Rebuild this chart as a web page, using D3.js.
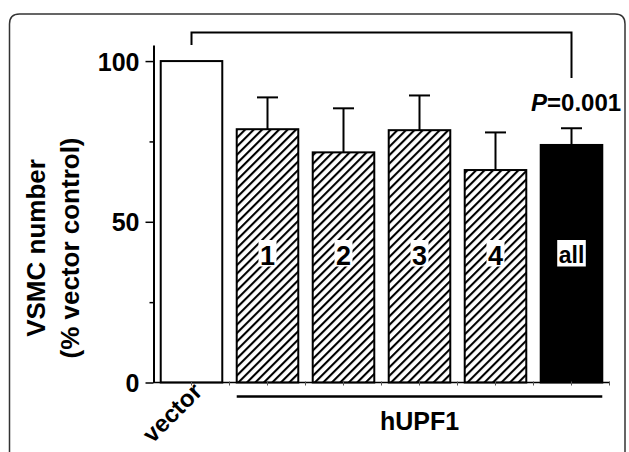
<!DOCTYPE html>
<html>
<head>
<meta charset="utf-8">
<script src="https://cdn.jsdelivr.net/npm/d3@7"></script>
<style>
  body { margin: 0; background: #fff; }
  svg text { font-family: "Liberation Sans", Arial, sans-serif; font-weight: bold; }
</style>
</head>
<body>
<div id="chart"></div>
<script>
// data
const groups = ["vector", "1", "2", "3", "4", "all"];
const means = [100, 78.8, 71.6, 78.5, 66.1, 73.9];
const errs = [0, 9.9, 13.7, 10.8, 11.7, 5.2];
const fills = ["white", "hatch", "hatch", "hatch", "hatch", "black"];
const majorTicks = [0, 50, 100];
const minorTicks = [25, 75];
const pLabel = "0.001";

const W = 629, H = 452;

const svg = d3.select("#chart").append("svg")
    .attr("width", W)
    .attr("height", H);

// hatch pattern
const defs = svg.append("defs");
defs.append("pattern")
    .attr("id", "hatch")
    .attr("patternUnits", "userSpaceOnUse")
    .attr("width", 6)
    .attr("height", 6)
    .attr("patternTransform", "rotate(45)")
    .call(p => {
        p.append("rect").attr("width", 6).attr("height", 6).attr("fill", "white");
        p.append("line").attr("x1", 1).attr("x2", 1).attr("y1", 0).attr("y2", 6)
            .attr("stroke", "black").attr("stroke-width", 2.2);
    });

// panel frame (open at the bottom)
svg.append("path")
    .attr("d", "M9.5,460 L9.5,24 Q9.5,14 19.5,14 L615,14 Q625,14 625,24 L625,460")
    .attr("fill", "none")
    .attr("stroke", "#333")
    .attr("stroke-width", 1.5);

const x = d3.scaleBand()
    .domain(groups)
    .range([153.5, 609.5])
    .paddingInner(0.19)
    .paddingOuter(0.095);

const y = d3.scaleLinear()
    .domain([0, 105])
    .range([382.5, 45]);

// y axis
const yAxis = svg.append("g")
    .attr("transform", "translate(153.5,0)")
    .call(d3.axisLeft(y).tickValues(majorTicks).tickSize(8).tickPadding(6).tickSizeOuter(0));
yAxis.select(".domain").attr("stroke-width", 2);
yAxis.selectAll(".tick line").attr("stroke-width", 1.5);
yAxis.selectAll(".tick text")
    .attr("font-size", 25)
    .attr("font-family", "'Liberation Sans', Arial, sans-serif")
    .attr("dy", "0.36em");

const yMinor = svg.append("g")
    .attr("transform", "translate(153.5,0)")
    .call(d3.axisLeft(y).tickValues(minorTicks).tickSize(4).tickFormat(""));
yMinor.select(".domain").remove();
yMinor.selectAll(".tick line").attr("stroke-width", 1.5);

// bars
svg.selectAll(".bar")
    .data(groups)
    .enter().append("rect")
    .attr("class", "bar")
    .attr("x", d => x(d))
    .attr("width", x.bandwidth())
    .attr("y", (d, i) => y(means[i]))
    .attr("height", (d, i) => y(0) - y(means[i]))
    .attr("fill", (d, i) => fills[i] === "hatch" ? "url(#hatch)" : fills[i])
    .attr("stroke", "black")
    .attr("stroke-width", 2);

// error bars
const eb = groups.map((g, i) => ({ g, m: means[i], e: errs[i] })).filter(d => d.e > 0);
svg.selectAll(".err")
    .data(eb)
    .enter().append("line")
    .attr("x1", d => x(d.g) + x.bandwidth() / 2)
    .attr("x2", d => x(d.g) + x.bandwidth() / 2)
    .attr("y1", d => y(d.m))
    .attr("y2", d => y(d.m + d.e))
    .attr("stroke", "black")
    .attr("stroke-width", 2);
svg.selectAll(".cap")
    .data(eb)
    .enter().append("line")
    .attr("x1", d => x(d.g) + x.bandwidth() / 2 - 10.5)
    .attr("x2", d => x(d.g) + x.bandwidth() / 2 + 10.5)
    .attr("y1", d => y(d.m + d.e))
    .attr("y2", d => y(d.m + d.e))
    .attr("stroke", "black")
    .attr("stroke-width", 2);

// x axis baseline with small ticks
const xa = svg.append("g").attr("transform", "translate(0,382.5)");
xa.append("line").attr("x1", 153.5).attr("x2", 610).attr("stroke", "black").attr("stroke-width", 1.5);
const tickXs = [];
groups.forEach((g, i) => {
    tickXs.push(x(g) + x.bandwidth() / 2);
    tickXs.push(x(g) + x.bandwidth() + x.step() * x.paddingInner() / 2);
});
xa.selectAll(".xt")
    .data(tickXs)
    .enter().append("line")
    .attr("x1", d => d).attr("x2", d => d)
    .attr("y1", -1).attr("y2", 3)
    .attr("stroke", "#555").attr("stroke-width", 1);

// labels inside bars with white box
groups.slice(1).forEach(g => {
    const cx = x(g) + x.bandwidth() / 2;
    const t = svg.append("text")
        .attr("x", cx)
        .attr("y", g === "all" ? 263 : 264.5)
        .attr("text-anchor", "middle")
        .attr("font-size", g === "all" ? 23 : 27)
        .attr("fill", "black")
        .text(g);
    const bb = t.node().getBBox();
    svg.insert("rect", () => t.node())
        .attr("x", bb.x - 1.5)
        .attr("y", 240)
        .attr("width", bb.width + 3)
        .attr("height", 26.5)
        .attr("fill", "white");
});

// x category labels
const vx = x("vector") + x.bandwidth() / 2;
svg.append("text")
    .attr("transform", `translate(${vx + 12},393) rotate(-45)`)
    .attr("text-anchor", "end")
    .attr("font-size", 24)
    .text("vector");

const first = x("1"), last = x("all") + x.bandwidth();
svg.append("line")
    .attr("x1", first).attr("x2", last)
    .attr("y1", 396.5).attr("y2", 396.5)
    .attr("stroke", "black").attr("stroke-width", 2.5);
svg.append("text")
    .attr("x", (first + last) / 2)
    .attr("y", 430)
    .attr("text-anchor", "middle")
    .attr("font-size", 25)
    .text("hUPF1");

// y axis title
const yt = svg.append("text")
    .attr("transform", "translate(45,248) rotate(-90)")
    .attr("text-anchor", "middle")
    .attr("font-size", 26);
yt.append("tspan").attr("x", 0).attr("y", 0).text("VSMC number");
yt.append("tspan").attr("x", 0).attr("y", 34).text("(% vector control)");

// significance bracket
const bx1 = x("vector") + x.bandwidth() / 2;
const bx2 = x("all") + x.bandwidth() / 2;
svg.append("path")
    .attr("d", `M${bx1},45 L${bx1},32.5 L${bx2},32.5 L${bx2},78`)
    .attr("fill", "none")
    .attr("stroke", "black")
    .attr("stroke-width", 2);

const pt = svg.append("text")
    .attr("x", 531)
    .attr("y", 111)
    .attr("font-size", 24);
pt.append("tspan").attr("font-style", "italic").text("P");
pt.append("tspan").text("=" + pLabel);
</script>
</body>
</html>
